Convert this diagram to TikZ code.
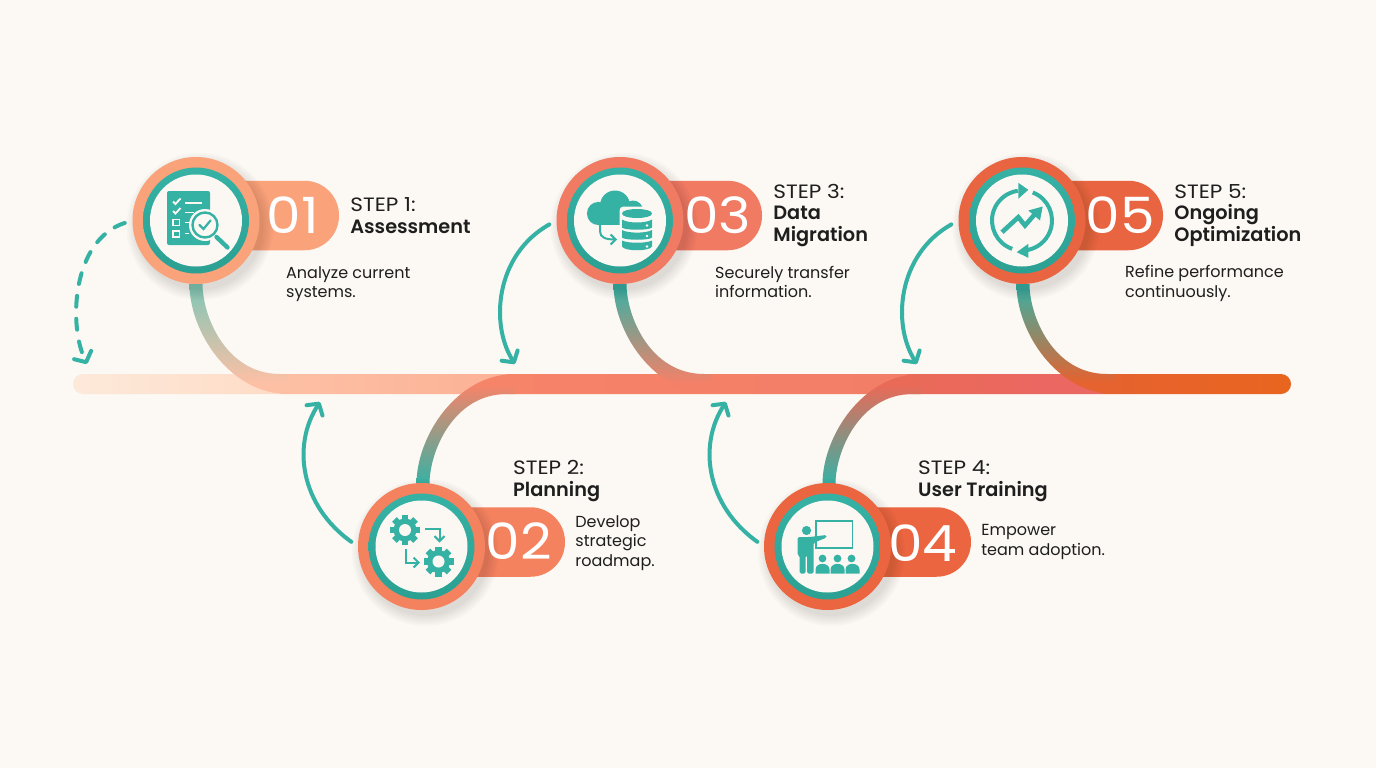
\documentclass[tikz,border=0pt]{standalone}
\usepackage{fontspec}
\setmainfont{Poppins}
\newfontfamily\headfont{Poppins SemiBold}
\newfontfamily\stepfont{Poppins}[FakeStretch=1.12]
\newfontfamily\numfont{Poppins}[FakeStretch=1.1]
\usepackage{tikz}
\usetikzlibrary{arrows.meta, positioning}

\definecolor{paper}{HTML}{FCF8F3}
\definecolor{inkc}{HTML}{1E1E1E}
\definecolor{teal}{HTML}{36B2A5}
\definecolor{tealpale}{HTML}{7FC6B6}
\definecolor{tealdark}{HTML}{2BA093}
\definecolor{face}{HTML}{FBF8F4}
\definecolor{stepa}{HTML}{FAA27A}
\definecolor{stepb}{HTML}{F4825F}
\definecolor{stepc}{HTML}{F07A62}
\definecolor{stepd}{HTML}{EC6541}
\definecolor{stepe}{HTML}{E96541}
\definecolor{bara}{HTML}{FDE9DA}
\definecolor{barb}{HTML}{FEDCC6}
\definecolor{barc}{HTML}{FDC0A5}
\definecolor{bard}{HTML}{FCB195}
\definecolor{bare}{HTML}{F68469}
\definecolor{barf}{HTML}{F58068}
\definecolor{barg}{HTML}{F37E68}
\definecolor{barh}{HTML}{EA6A58}
\definecolor{bari}{HTML}{EB6762}
\definecolor{barj}{HTML}{E6622F}
\definecolor{bark}{HTML}{E8651F}

\pgfdeclarehorizontalshading{barshade}{100bp}{
  color(0bp)=(bara); color(25bp)=(bara); color(33.46bp)=(barb); color(33.6bp)=(barc);
  color(42.73bp)=(bard); color(42.9bp)=(bare); color(50.9bp)=(barf); color(59.15bp)=(barg);
  color(59.4bp)=(barh); color(65.1bp)=(bari); color(67.2bp)=(bari); color(67.3bp)=(barj);
  color(75bp)=(bark); color(100bp)=(bark)}
\pgfdeclareverticalshading{brancha}{100bp}{
  color(0bp)=(barc); color(30bp)=(barc); color(75bp)=(tealpale); color(100bp)=(tealpale)}
\pgfdeclareverticalshading{branchb}{100bp}{
  color(0bp)=(teal); color(25bp)=(teal); color(70bp)=(bare); color(100bp)=(bare)}
\pgfdeclareverticalshading{branchc}{100bp}{
  color(0bp)=(barf); color(30bp)=(barf); color(75bp)=(teal); color(100bp)=(teal)}
\pgfdeclareverticalshading{branchd}{100bp}{
  color(0bp)=(teal); color(25bp)=(teal); color(70bp)=(barh); color(100bp)=(barh)}
\pgfdeclareverticalshading{branche}{100bp}{
  color(0bp)=(barj); color(30bp)=(barj); color(75bp)=(teal); color(100bp)=(teal)}

% curved branch between a disc and the bar
\newcommand{\branch}[3]{
  \shade[shift={(#1,384)}, yscale=#2, shading=#3]
    (-6.5,-100) .. controls (-6.5,-52) and (34,10) .. (92,10) -- (92,-10) -- (84,-10)
    .. controls (30,-10) and (6.5,-68) .. (6.5,-100) -- cycle;
}
% soft shadow below a disc
\newcommand{\softshadow}[3]{
  \foreach \k in {10,8,...,0} {
    \fill[black, opacity=0.018] (#1+4,#2+6) circle (#3+\k);
  }
}
\newcommand{\gearicon}[2]{
  \begin{scope}[shift={(#1,#2)}]
    \foreach \a in {0,45,...,315} {
      \fill[teal, rotate=\a] (-3.2,-15) rectangle (3.2,0);
    }
    \fill[teal] (0,0) circle (11.5);
    \fill[face] (0,0) circle (6);
  \end{scope}
}

\begin{document}
\begin{tikzpicture}[
    x=1pt, y=-1pt,
    disc/.style={circle, inner sep=0pt, minimum size=127pt},
    ring/.style={circle, inner sep=0pt, minimum size=106pt, top color=teal, bottom color=tealdark},
    plate/.style={circle, inner sep=0pt, minimum size=92pt, fill=face},
    pill/.style={rectangle, inner sep=0pt, rounded corners=34.5pt, minimum height=69.5pt},
    num/.style={inner sep=0pt, text=white, font=\numfont\fontsize{50}{50}\selectfont},
    title/.style={inner sep=0pt, align=left, text=inkc, font=\fontsize{19.3}{21.5}\selectfont},
    desc/.style={inner sep=0pt, align=left, text=inkc, font=\fontsize{16}{19.5}\selectfont},
    flow/.style={teal, line width=4pt, line cap=round, -{Straight Barb[round, length=8pt, width=19pt]}},
    flowdash/.style={flow, dash pattern=on 11pt off 12pt}
]

% Background
\fill[paper] (0,0) rectangle (1376,768);

% Main bar
\node[rectangle, inner sep=0pt, rounded corners=10pt, minimum width=1218pt, minimum height=20pt, shading=barshade] (bar) at (682,384) {};

% Branches
\branch{196}{1}{brancha}
\branch{423}{-1}{branchb}
\branch{620}{1}{branchc}
\branch{829}{-1}{branchd}
\branch{1023}{1}{branche}

% Pills
\node[pill, fill=stepa, minimum width=143pt] (pilla) at (267.5,215.5) {};
\node[pill, fill=stepb, minimum width=144pt] (pillb) at (493,542) {};
\node[pill, fill=stepc, minimum width=143pt] (pillc) at (690.5,215.5) {};
\node[pill, fill=stepd, minimum width=144pt] (pilld) at (899,542) {};
\node[pill, fill=stepe, minimum width=142pt] (pille) at (1092,215.5) {};

% Discs
\softshadow{196}{220.5}{63.5}
\softshadow{421.5}{546.5}{63.5}
\softshadow{620}{220.5}{63.5}
\softshadow{827.5}{546.5}{63.5}
\softshadow{1022}{220.5}{63.5}
\node[disc, fill=stepa] (disca) at (196,220.5) {};
\node[disc, fill=stepb] (discb) at (421.5,546.5) {};
\node[disc, fill=stepc] (discc) at (620,220.5) {};
\node[disc, fill=stepd] (discd) at (827.5,546.5) {};
\node[disc, fill=stepe] (disce) at (1022,220.5) {};
\node[ring] (ringa) at (disca) {};
\node[ring] (ringb) at (discb) {};
\node[ring] (ringc) at (discc) {};
\node[ring] (ringd) at (discd) {};
\node[ring] (ringe) at (disce) {};
\node[plate] (platea) at (disca) {};
\node[plate] (plateb) at (discb) {};
\node[plate] (platec) at (discc) {};
\node[plate] (plated) at (discd) {};
\node[plate] (platee) at (disce) {};

% Numbers
\node[num] (numa) at (293,215.5) {01};
\node[num] (numb) at (519,541) {02};
\node[num] (numc) at (717.5,215.5) {03};
\node[num] (numd) at (923,543) {04};
\node[num] (nume) at (1120,215.5) {05};

% Titles
\node[title, right=11pt of pilla] (titlea) {{\stepfont STEP 1:}\\{\headfont Assessment}};
\node[title, anchor=west] (titleb) at (513,481) {{\stepfont STEP 2:}\\{\headfont Planning}};
\node[title, right=11pt of pillc] (titlec) {{\stepfont STEP 3:}\\{\headfont Data}\\{\headfont Migration}};
\node[title, anchor=west] (titled) at (918,481) {{\stepfont STEP 4:}\\{\headfont User Training}};
\node[title, right=11pt of pille] (titlee) {{\stepfont STEP 5:}\\{\headfont Ongoing}\\{\headfont Optimization}};

% Descriptions
\node[desc, anchor=west] (desca) at (286,284) {Analyze current\\systems.};
\node[desc, right=10pt of pillb, yshift=-1pt] (descb) {Develop\\strategic\\roadmap.};
\node[desc, anchor=west] (descc) at (715,282) {Securely transfer\\information.};
\node[desc, right=10pt of pilld] (descd) {Empower\\team adoption.};
\node[desc, anchor=west] (desce) at (1125,283.5) {Refine performance\\continuously.};

% Icons
\begin{scope}[shift={(disca)}]
  \fill[teal, rounded corners=2pt] (-29,-29.5) rectangle (14,24.5);
  \draw[face, line width=1.8pt] (-23,-19) -- (-20.5,-16.5) -- (-15.5,-22);
  \draw[face, line width=1.8pt] (-23,-9.5) -- (-20.5,-7) -- (-15.5,-12.5);
  \draw[face, line width=1.6pt] (-23,-1) rectangle (-16.5,5);
  \draw[face, line width=1.6pt] (-23,10.5) rectangle (-16.5,16.5);
  \draw[face, line width=1.6pt] (-11,-17.8) -- (6,-17.8);
  \draw[face, line width=1.6pt] (-11,-8) -- (-2,-8);
  \draw[face, line width=1.6pt] (-11,2) -- (-6,2);
  \draw[face, line width=1.6pt] (-11,13) -- (-7,13);
  \fill[face] (9,4.5) circle (16);
  \draw[teal, line width=2.4pt, fill=face] (9,4.5) circle (12.5);
  \draw[teal, line width=2.2pt, line cap=round] (3.5,4.5) -- (7.5,8.5) -- (14.5,0);
  \draw[teal, line width=4.4pt, line cap=round] (20.5,16.5) -- (31.5,27);
\end{scope}

\begin{scope}[shift={(discb)}]
  \gearicon{-16.5}{-16.5}
  \gearicon{17}{15}
  \draw[teal, line width=2pt, -{Straight Barb[length=5pt, width=10pt]}] (3.5,-17.5) -- (18,-17.5) -- (18,-4);
  \draw[teal, line width=2pt, -{Straight Barb[length=5pt, width=10pt]}] (-15.5,2.5) -- (-15.5,16) -- (-1.5,16);
\end{scope}

\begin{scope}[shift={(discc)}]
  \fill[teal] (-5,-15) circle (15);
  \fill[teal] (-21.5,-7) circle (11.6);
  \fill[teal] (13,-10) circle (10);
  \fill[teal] (-21.5,-6) rectangle (22,4.6);
  \fill[face, rounded corners=4pt] (-0.5,-14) rectangle (34,33);
  \draw[teal, line width=2pt, -{Straight Barb[length=5pt, width=10pt]}] (-20,4) -- (-20,11) .. controls (-20,17) and (-14,19) .. (-3,19);
  \fill[teal] (2,-7) .. controls (2,-13) and (32,-13) .. (32,-7) .. controls (32,-1) and (2,-1) .. (2,-7);
  \fill[teal] (2,-1) .. controls (8,3) and (26,3) .. (32,-1) -- (32,7) .. controls (30,10) and (4,10) .. (2,7) -- cycle;
  \fill[teal] (2,9.5) .. controls (8,13) and (26,13) .. (32,9.5) -- (32,17) .. controls (30,20) and (4,20) .. (2,17) -- cycle;
  \fill[teal] (2,20) .. controls (8,23) and (26,23) .. (32,20) -- (32,26) .. controls (30,31) and (4,31) .. (2,26) -- cycle;
  \fill[face] (27,5) circle (1.3);
  \fill[face] (27,15.5) circle (1.3);
  \fill[face] (27,26) circle (1.3);
\end{scope}

\begin{scope}[shift={(discd)}]
  \draw[teal, line width=1.6pt] (-11.5,-25.5) rectangle (25,1.5);
  \fill[teal] (-21,-16) circle (4.6);
  \fill[teal, rounded corners=1.5pt] (-30,-9.5) -- (-18,-9.5) -- (-1,-11.5) -- (-1,-9) -- (-14,-3.5) -- (-14,27) -- (-20.5,27) -- (-20.5,9) -- (-22,9) -- (-22,27) -- (-28,27) -- (-28,9) -- (-30,9) -- cycle;
  \fill[teal] (-5,12) circle (3.9);
  \fill[teal] (10,12) circle (3.9);
  \fill[teal] (24,12) circle (3.9);
  \fill[teal] (-12,27) -- (-12,23) .. controls (-12,15.5) and (2,15.5) .. (2,23) -- (2,27) -- cycle;
  \fill[teal] (3,27) -- (3,23) .. controls (3,15.5) and (17,15.5) .. (17,23) -- (17,27) -- cycle;
  \fill[teal] (18,27) -- (18,23) .. controls (18,15.5) and (32,15.5) .. (32,23) -- (32,27) -- cycle;
\end{scope}

\begin{scope}[shift={(disce)}]
  \draw[teal, line width=4pt] (109:30) arc[start angle=109, end angle=262, radius=30];
  \fill[teal] (6.3,-30.7) -- (-3.7,-37.7) -- (-3.7,-21.7) -- cycle;
  \draw[teal, line width=4pt] (-69:30) arc[start angle=-69, end angle=82, radius=30];
  \fill[teal] (-5.3,31.7) -- (6.3,23.3) -- (6.3,37.3) -- cycle;
  \draw[teal, line width=4.6pt] (-20,11.7) -- (-3.7,-3.3) -- (3,5) -- (13,-6.5);
  \fill[teal] (20.7,-14) -- (18,0) -- (6.3,-10) -- cycle;
\end{scope}

% Arrows
\coordinate (dropa) at (87,364);
\coordinate (dropb) at (320,402);
\coordinate (dropc) at (515,364);
\coordinate (dropd) at (726,402);
\coordinate (drope) at (917,364);
\draw[flowdash, shorten <=8pt] (disca.west) .. controls (72,240) and (68,325) .. (dropa);
\draw[flow, shorten <=8pt] (discb.west) .. controls (300,505) and (292,445) .. (dropb);
\draw[flow, shorten <=8pt] (discc.west) .. controls (495,255) and (490,325) .. (dropc);
\draw[flow, shorten <=8pt] (discd.west) .. controls (706,505) and (698,445) .. (dropd);
\draw[flow, shorten <=8pt] (disce.west) .. controls (897,255) and (892,325) .. (drope);

\end{tikzpicture}
\end{document}
